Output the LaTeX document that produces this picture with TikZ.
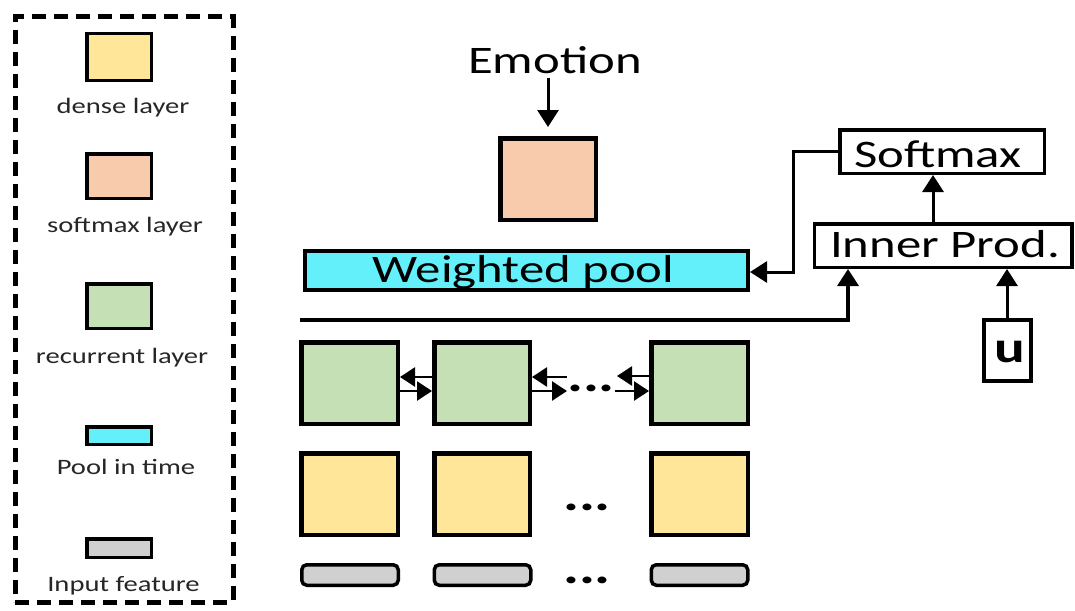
\documentclass[tikz,border=0pt]{standalone}
\usepackage{fontspec}
\setmainfont[FakeStretch=1.3]{Carlito}
\usetikzlibrary{arrows.meta}
\definecolor{denseC}{HTML}{FFE699}
\definecolor{softC}{HTML}{F8CBAD}
\definecolor{recC}{HTML}{C5E0B4}
\definecolor{poolC}{HTML}{63F0FA}
\definecolor{inC}{HTML}{D0D0D0}
\newcommand\legfont{\fontsize{22}{22}\selectfont}
\newcommand\bigfont{\fontsize{39}{39}\selectfont}
\begin{document}
\begin{tikzpicture}[x=1pt,y=-1pt,
  sz/.style n args={2}{minimum width=#1pt, minimum height=#2pt},
  blk/.style={draw=black, line width=4.5pt, inner sep=0pt},
  swatch/.style={draw=black, line width=3.5pt, inner sep=0pt, sz={64.5}{#1}},
  inbox/.style={draw=black, line width=3.5pt, inner sep=0pt, rounded corners=5pt, fill=inC, sz={96.5}{20.5}},
  wbox/.style={draw=black, line width=3.5pt, inner sep=0pt, fill=white},
  leg/.style={anchor=base, font=\legfont, text=black!85, inner sep=0pt},
  big/.style={anchor=base, font=\bigfont, inner sep=0pt},
  conn/.style={line width=3pt, -{Triangle[length=17pt,width=21pt]}},
  link/.style={line width=2.5pt, -{Triangle[length=15pt,width=19pt]}},
  dots/.style={font=\fontsize{46}{46}\selectfont\bfseries, inner sep=0pt, anchor=base}
]
\useasboundingbox (0,0) rectangle (1075,610);

% ---- legend ----
\node[draw=black, line width=5pt, dash pattern=on 14pt off 8pt, inner sep=0pt, sz={218}{585}] (legend) at (124,309.5) {};
\node[swatch={46.5}, fill=denseC] (lg-dense) at (119,57) {};
\node[leg] (lg-dense-t) at (123,113) {dense layer};
\node[swatch={44.5}, fill=softC] (lg-soft) at (119,176) {};
\node[leg] (lg-soft-t) at (125,232) {softmax layer};
\node[swatch={44.5}, fill=recC] (lg-rec) at (119,306) {};
\node[leg] (lg-rec-t) at (122,363) {recurrent layer};
\node[swatch={17.5}, fill=poolC] (lg-pool) at (119,435.5) {};
\node[leg] (lg-pool-t) at (126,474) {Pool in time};
\node[swatch={18.5}, fill=inC] (lg-in) at (119,548) {};
\node[leg] (lg-in-t) at (123.5,591) {Input feature};

% ---- emotion output ----
\node[big] (emotion) at (555,74) {Emotion};
\node[blk, fill=softC, sz={95.5}{81.5}] (out) at (548,179) {};
\draw[conn, shorten >=9pt] (emotion.south -| out.north) ++(0,4) -- (out.north);

% ---- weighted pool ----
\node[blk, line width=4pt, fill=poolC, sz={443}{39}] (wp) at (526.5,270.5) {};
\node[big] (wp-t) at (523.5,282) {Weighted pool};

% ---- attention branch ----
\node[wbox, sz={204.5}{43.5}] (smx) at (942,151.5) {};
\node[big] (smx-t) at (938,167) {Softmax};
\node[wbox, sz={257.5}{43.5}] (ip) at (943,245.5) {};
\node[big] (ip-t) at (945,257) {Inner Prod.};
\node[wbox, line width=4pt, sz={47}{61}] (u) at (1007.5,350.5) {};
\node[anchor=base, inner sep=0pt, font=\fontsize{44}{44}\selectfont\bfseries] (u-t) at (1010,362) {u};

\coordinate (seq) at (300,320);
\draw[line width=3.5pt, -{Triangle[length=17pt,width=21pt]}] (seq) -- (seq -| 848,0) -- (848,0 |- ip.south);
\draw[conn] (u.north -| 1007,0) -- (1007,0 |- ip.south);
\draw[conn] (933,0 |- ip.north) -- (933,0 |- smx.south);
\draw[conn] (smx.west) -- (793,0 |- smx.west) -- (793,272) -- (wp.east |- 0,272);

% ---- recurrent layer ----
\node[blk, fill=recC, sz={96.5}{81.5}] (r1) at (349.5,383) {};
\node[blk, fill=recC, sz={95.5}{81.5}] (r2) at (482,383) {};
\node[blk, fill=recC, sz={96.5}{81.5}] (r3) at (699.5,383) {};
\draw[link] (r2.west |- 0,377) -- (r1.east |- 0,377);
\draw[link] (r1.east |- 0,391) -- (r2.west |- 0,391);
\coordinate (ra) at (567,377);
\coordinate (rb) at (567,391);
\coordinate (rc) at (617,376);
\coordinate (rd) at (615,391);
\draw[link] (ra) -- (r2.east |- ra);
\draw[link] (r2.east |- rb) -- (rb);
\draw[link] (r3.west |- rc) -- (rc);
\draw[link] (rd) -- (r3.west |- rd);
\node[dots] (rdots) at (591,391) {...};

% ---- dense layer ----
\node[blk, fill=denseC, sz={96.5}{81.5}] (d1) at (349.5,494) {};
\node[blk, fill=denseC, sz={95.5}{81.5}] (d2) at (482,494) {};
\node[blk, fill=denseC, sz={96.5}{81.5}] (d3) at (699.5,494) {};
\node[dots] (ddots) at (587,510) {...};

% ---- input features ----
\node[inbox] (i1) at (350,575) {};
\node[inbox] (i2) at (482.5,575) {};
\node[inbox] (i3) at (699.5,575) {};
\node[dots] (idots) at (587,583) {...};
\end{tikzpicture}
\end{document}
